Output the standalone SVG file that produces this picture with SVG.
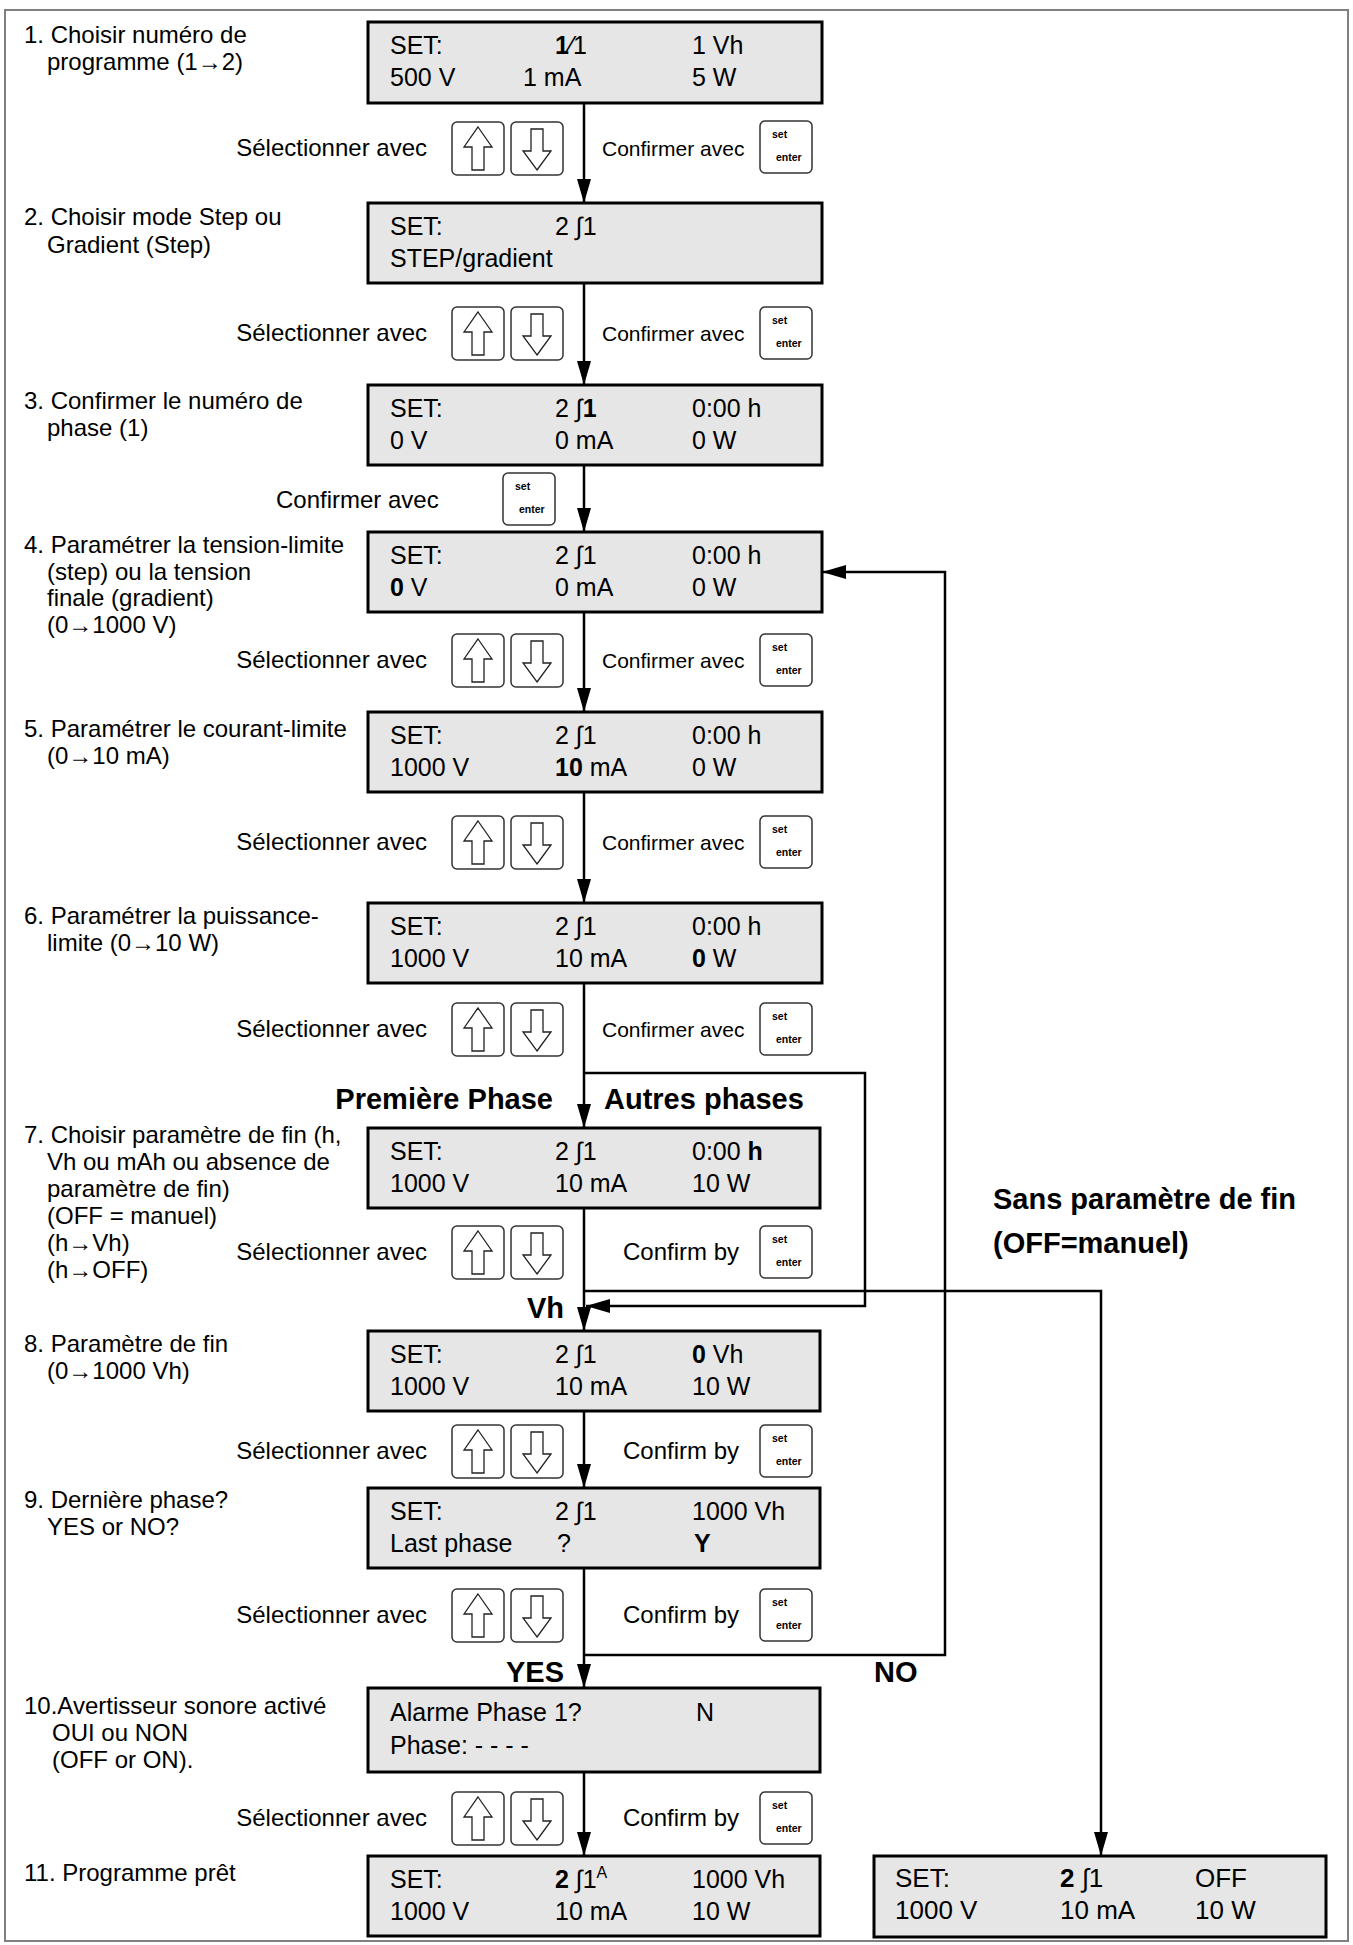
<svg xmlns="http://www.w3.org/2000/svg" xmlns:xlink="http://www.w3.org/1999/xlink" width="1353" height="1945" viewBox="0 0 1353 1945">
<style>
text{font-family:"Liberation Sans",Arial,Helvetica,sans-serif;fill:#000}
.box{fill:#e6e6e6;stroke:#000;stroke-width:3}
.d{font-size:25px}
.r{font-size:26px}
.l{font-size:24px}
.c{font-size:21px}
.b{font-weight:bold}
.big{font-size:29px;font-weight:bold}
.key{fill:#fff;stroke:#333;stroke-width:1.5}
.ka{fill:#fff;stroke:#222;stroke-width:1.3}
.kt{font-size:10.5px;font-weight:bold}
.conn{stroke:#000;stroke-width:2.5;fill:none}
</style>
<defs>
<marker id="ah" markerUnits="userSpaceOnUse" markerWidth="24" markerHeight="14" refX="24" refY="7" orient="auto">
<path d="M0,0 L24,7 L0,14 z" fill="#000"/>
</marker>
<g id="kup"><rect x="0" y="0" width="52" height="53" rx="5" class="key"/><polygon class="ka" points="26,5 40,25 32,25 32,48 20,48 20,25 12,25"/></g>
<g id="kdn"><rect x="0" y="0" width="52" height="53" rx="5" class="key"/><polygon class="ka" points="26,48 40,29 32,29 32,7 20,7 20,29 12,29"/></g>
<g id="kset"><rect x="0" y="0" width="52" height="52" rx="5" class="key"/><text x="12" y="17" class="kt">set</text><text x="16" y="40" class="kt">enter</text></g>
</defs>
<rect x="5" y="10" width="1343" height="1931" fill="#fff" stroke="#808080" stroke-width="2"/>

<g id="connectors">
<line class="conn" x1="584" y1="103" x2="584" y2="203" marker-end="url(#ah)"/>
<line class="conn" x1="584" y1="283" x2="584" y2="385" marker-end="url(#ah)"/>
<line class="conn" x1="584" y1="465" x2="584" y2="532" marker-end="url(#ah)"/>
<line class="conn" x1="584" y1="612" x2="584" y2="712" marker-end="url(#ah)"/>
<line class="conn" x1="584" y1="792" x2="584" y2="903" marker-end="url(#ah)"/>
<line class="conn" x1="584" y1="983" x2="584" y2="1128" marker-end="url(#ah)"/>
<line class="conn" x1="584" y1="1208" x2="584" y2="1331" marker-end="url(#ah)"/>
<line class="conn" x1="584" y1="1411" x2="584" y2="1488" marker-end="url(#ah)"/>
<line class="conn" x1="584" y1="1568" x2="584" y2="1688" marker-end="url(#ah)"/>
<line class="conn" x1="584" y1="1772" x2="584" y2="1856" marker-end="url(#ah)"/>
<path class="conn" d="M584,1073 H865 V1306 H586" marker-end="url(#ah)"/>
<path class="conn" d="M584,1291 H1101 V1856" marker-end="url(#ah)"/>
<path class="conn" d="M584,1655 H945 V572 H822" marker-end="url(#ah)"/>
</g>

<g id="labels">
<text class="big" x="553" y="1109" text-anchor="end">Première Phase</text>
<text class="big" x="604" y="1109">Autres phases</text>
<text class="big" x="564" y="1318" text-anchor="end">Vh</text>
<text class="big" x="564" y="1682" text-anchor="end">YES</text>
<text class="big" x="874" y="1682">NO</text>
<text class="big" x="993" y="1209">Sans paramètre de fin</text>
<text class="big" x="993" y="1253">(OFF=manuel)</text>
</g>

<g id="step1">
<text class="l" x="24" y="43">1. Choisir numéro de</text>
<text class="l" x="47" y="70">programme (1→2)</text>
<rect class="box" x="368" y="22" width="454" height="81"/>
<text class="d" x="390" y="54">SET:</text>
<text class="d" x="555" y="54"><tspan class="b">1</tspan>⁄1</text>
<text class="d" x="692" y="54">1 Vh</text>
<text class="d" x="390" y="86">500 V</text>
<text class="d" x="523" y="86">1 mA</text>
<text class="d" x="692" y="86">5 W</text>
<text class="l" x="427" y="156" text-anchor="end">Sélectionner avec</text>
<use xlink:href="#kup" x="452" y="122"/>
<use xlink:href="#kdn" x="511" y="122"/>
<text class="c" x="602" y="156">Confirmer avec</text>
<use xlink:href="#kset" x="760" y="121"/>
</g>

<g id="step2">
<text class="l" x="24" y="225">2. Choisir mode Step ou</text>
<text class="l" x="47" y="253">Gradient (Step)</text>
<rect class="box" x="368" y="203" width="454" height="80"/>
<text class="d" x="390" y="235">SET:</text>
<text class="d" x="555" y="235">2 ∫1</text>
<text class="d" x="390" y="267">STEP/gradient</text>
<text class="l" x="427" y="341" text-anchor="end">Sélectionner avec</text>
<use xlink:href="#kup" x="452" y="307"/>
<use xlink:href="#kdn" x="511" y="307"/>
<text class="c" x="602" y="341">Confirmer avec</text>
<use xlink:href="#kset" x="760" y="307"/>
</g>

<g id="step3">
<text class="l" x="24" y="409">3. Confirmer le numéro de</text>
<text class="l" x="47" y="436">phase (1)</text>
<rect class="box" x="368" y="385" width="454" height="80"/>
<text class="d" x="390" y="417">SET:</text>
<text class="d" x="555" y="417">2 ∫<tspan class="b">1</tspan></text>
<text class="d" x="692" y="417">0:00 h</text>
<text class="d" x="390" y="449">0 V</text>
<text class="d" x="555" y="449">0 mA</text>
<text class="d" x="692" y="449">0 W</text>
<text class="l" x="276" y="508">Confirmer avec</text>
<use xlink:href="#kset" x="503" y="473"/>
</g>

<g id="step4">
<text class="l" x="24" y="553">4. Paramétrer la tension-limite</text>
<text class="l" x="47" y="580">(step) ou la tension</text>
<text class="l" x="47" y="606">finale (gradient)</text>
<text class="l" x="47" y="633">(0→1000 V)</text>
<rect class="box" x="368" y="532" width="454" height="80"/>
<text class="d" x="390" y="564">SET:</text>
<text class="d" x="555" y="564">2 ∫1</text>
<text class="d" x="692" y="564">0:00 h</text>
<text class="d" x="390" y="596"><tspan class="b">0</tspan> V</text>
<text class="d" x="555" y="596">0 mA</text>
<text class="d" x="692" y="596">0 W</text>
<text class="l" x="427" y="668" text-anchor="end">Sélectionner avec</text>
<use xlink:href="#kup" x="452" y="634"/>
<use xlink:href="#kdn" x="511" y="634"/>
<text class="c" x="602" y="668">Confirmer avec</text>
<use xlink:href="#kset" x="760" y="634"/>
</g>

<g id="step5">
<text class="l" x="24" y="737">5. Paramétrer le courant-limite</text>
<text class="l" x="47" y="764">(0→10 mA)</text>
<rect class="box" x="368" y="712" width="454" height="80"/>
<text class="d" x="390" y="744">SET:</text>
<text class="d" x="555" y="744">2 ∫1</text>
<text class="d" x="692" y="744">0:00 h</text>
<text class="d" x="390" y="776">1000 V</text>
<text class="d" x="555" y="776"><tspan class="b">10</tspan> mA</text>
<text class="d" x="692" y="776">0 W</text>
<text class="l" x="427" y="850" text-anchor="end">Sélectionner avec</text>
<use xlink:href="#kup" x="452" y="816"/>
<use xlink:href="#kdn" x="511" y="816"/>
<text class="c" x="602" y="850">Confirmer avec</text>
<use xlink:href="#kset" x="760" y="816"/>
</g>

<g id="step6">
<text class="l" x="24" y="924">6. Paramétrer la puissance-</text>
<text class="l" x="47" y="951">limite (0→10 W)</text>
<rect class="box" x="368" y="903" width="454" height="80"/>
<text class="d" x="390" y="935">SET:</text>
<text class="d" x="555" y="935">2 ∫1</text>
<text class="d" x="692" y="935">0:00 h</text>
<text class="d" x="390" y="967">1000 V</text>
<text class="d" x="555" y="967">10 mA</text>
<text class="d" x="692" y="967"><tspan class="b">0</tspan> W</text>
<text class="l" x="427" y="1037" text-anchor="end">Sélectionner avec</text>
<use xlink:href="#kup" x="452" y="1003"/>
<use xlink:href="#kdn" x="511" y="1003"/>
<text class="c" x="602" y="1037">Confirmer avec</text>
<use xlink:href="#kset" x="760" y="1003"/>
</g>

<g id="step7">
<text class="l" x="24" y="1143">7. Choisir paramètre de fin (h,</text>
<text class="l" x="47" y="1170">Vh ou mAh ou absence de</text>
<text class="l" x="47" y="1197">paramètre de fin)</text>
<text class="l" x="47" y="1224">(OFF = manuel)</text>
<text class="l" x="47" y="1251">(h→Vh)</text>
<text class="l" x="47" y="1278">(h→OFF)</text>
<rect class="box" x="368" y="1128" width="452" height="80"/>
<text class="d" x="390" y="1160">SET:</text>
<text class="d" x="555" y="1160">2 ∫1</text>
<text class="d" x="692" y="1160">0:00 <tspan class="b">h</tspan></text>
<text class="d" x="390" y="1192">1000 V</text>
<text class="d" x="555" y="1192">10 mA</text>
<text class="d" x="692" y="1192">10 W</text>
<text class="l" x="427" y="1260" text-anchor="end">Sélectionner avec</text>
<use xlink:href="#kup" x="452" y="1226"/>
<use xlink:href="#kdn" x="511" y="1226"/>
<text class="l" x="623" y="1260">Confirm by</text>
<use xlink:href="#kset" x="760" y="1226"/>
</g>

<g id="step8">
<text class="l" x="24" y="1352">8. Paramètre de fin</text>
<text class="l" x="47" y="1379">(0→1000 Vh)</text>
<rect class="box" x="368" y="1331" width="452" height="80"/>
<text class="d" x="390" y="1363">SET:</text>
<text class="d" x="555" y="1363">2 ∫1</text>
<text class="d" x="692" y="1363"><tspan class="b">0</tspan> Vh</text>
<text class="d" x="390" y="1395">1000 V</text>
<text class="d" x="555" y="1395">10 mA</text>
<text class="d" x="692" y="1395">10 W</text>
<text class="l" x="427" y="1459" text-anchor="end">Sélectionner avec</text>
<use xlink:href="#kup" x="452" y="1425"/>
<use xlink:href="#kdn" x="511" y="1425"/>
<text class="l" x="623" y="1459">Confirm by</text>
<use xlink:href="#kset" x="760" y="1425"/>
</g>

<g id="step9">
<text class="l" x="24" y="1508">9. Dernière phase?</text>
<text class="l" x="47" y="1535">YES or NO?</text>
<rect class="box" x="368" y="1488" width="452" height="80"/>
<text class="d" x="390" y="1520">SET:</text>
<text class="d" x="555" y="1520">2 ∫1</text>
<text class="d" x="692" y="1520">1000 Vh</text>
<text class="d" x="390" y="1552">Last phase</text>
<text class="d" x="557" y="1552">?</text>
<text class="d b" x="694" y="1552">Y</text>
<text class="l" x="427" y="1623" text-anchor="end">Sélectionner avec</text>
<use xlink:href="#kup" x="452" y="1589"/>
<use xlink:href="#kdn" x="511" y="1589"/>
<text class="l" x="623" y="1623">Confirm by</text>
<use xlink:href="#kset" x="760" y="1589"/>
</g>

<g id="step10">
<text class="l" x="24" y="1714">10.Avertisseur sonore activé</text>
<text class="l" x="52" y="1741">OUI ou NON</text>
<text class="l" x="52" y="1768">(OFF or ON).</text>
<rect class="box" x="368" y="1688" width="452" height="84"/>
<text class="d" x="390" y="1721">Alarme Phase 1?</text>
<text class="d" x="696" y="1721">N</text>
<text class="d" x="390" y="1754">Phase: - - - -</text>
<text class="l" x="427" y="1826" text-anchor="end">Sélectionner avec</text>
<use xlink:href="#kup" x="452" y="1792"/>
<use xlink:href="#kdn" x="511" y="1792"/>
<text class="l" x="623" y="1826">Confirm by</text>
<use xlink:href="#kset" x="760" y="1792"/>
</g>

<g id="step11">
<text class="l" x="24" y="1881">11. Programme prêt</text>
<rect class="box" x="368" y="1856" width="452" height="80"/>
<text class="d" x="390" y="1888">SET:</text>
<text class="d" x="555" y="1888"><tspan class="b">2</tspan> ∫1<tspan dy="-10" font-size="16">A</tspan></text>
<text class="d" x="692" y="1888">1000 Vh</text>
<text class="d" x="390" y="1920">1000 V</text>
<text class="d" x="555" y="1920">10 mA</text>
<text class="d" x="692" y="1920">10 W</text>
</g>

<g id="stepOff">
<rect class="box" x="874" y="1856" width="452" height="81"/>
<text class="r" x="895" y="1887">SET:</text>
<text class="r" x="1060" y="1887"><tspan class="b">2</tspan> ∫1</text>
<text class="r" x="1195" y="1887">OFF</text>
<text class="r" x="895" y="1919">1000 V</text>
<text class="r" x="1060" y="1919">10 mA</text>
<text class="r" x="1195" y="1919">10 W</text>
</g>
</svg>
